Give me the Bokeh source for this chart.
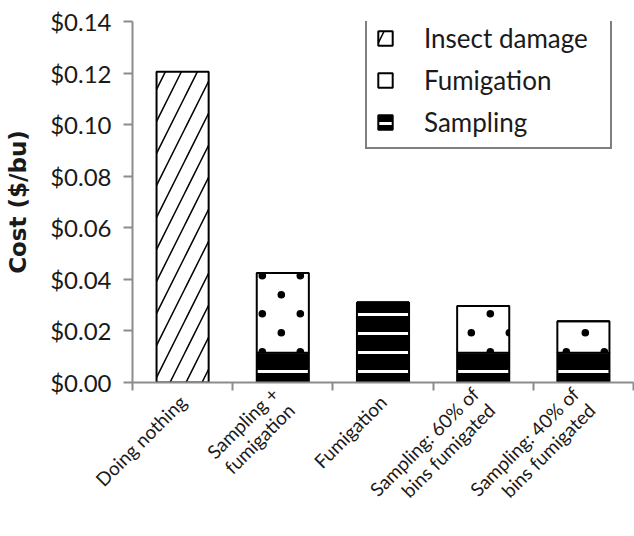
import math
import base64
from bokeh.plotting import figure
from bokeh.core.properties import value
from bokeh.models import (ColumnDataSource, FixedTicker, NumeralTickFormatter,
                          Legend, LegendItem, Range1d, ImageURLTexture)
from bokeh.embed import file_html
from bokeh.resources import INLINE

# ---- data -------------------------------------------------------------
categories = ["Doing nothing", "Sampling +\nfumigation", "Fumigation",
              "Sampling: 60% of\nbins fumigated", "Sampling: 40% of\nbins fumigated"]
sampling = [0.0, 0.0115, 0.0310, 0.0115, 0.0115]
fumigation = [0.0, 0.0310, 0.0, 0.0182, 0.0123]
insect_damage = [0.1205, 0.0, 0.0, 0.0, 0.0]
y_ticks = [0.00, 0.02, 0.04, 0.06, 0.08, 0.10, 0.12, 0.14]
series_names = ["Insect damage", "Fumigation", "Sampling"]

# ---- derived -----------------------------------------------------------
n = len(categories)
xs = [i + 0.5 for i in range(n)]
s_top = list(sampling)
f_top = [a + b for a, b in zip(s_top, fumigation)]
i_top = [a + b for a, b in zip(f_top, insect_damage)]

src = ColumnDataSource(dict(x=xs, s_bot=[0.0] * n, s_top=s_top,
                            f_bot=s_top, f_top=f_top,
                            i_bot=f_top, i_top=i_top))

FONT = "Lato"
AXIS_GREY = "#8c8c8c"
TEXT = "#1a1a1a"

# staggered dot texture for the fumigation fill
dot_svg = ('<svg xmlns="http://www.w3.org/2000/svg" width="38" height="38">'
           '<g fill="black">'
           '<circle cx="34.3" cy="9.7" r="3.8"/>'
           '<circle cx="-3.7" cy="9.7" r="3.8"/>'
           '<circle cx="15.3" cy="28.7" r="3.8"/>'
           '</g></svg>')
dot_url = "data:image/svg+xml;base64," + base64.b64encode(dot_svg.encode()).decode()

p = figure(width=634, height=536, x_range=Range1d(0, n),
           y_range=Range1d(y_ticks[0], y_ticks[-1]),
           output_backend="svg", toolbar_location=None,
           min_border_left=132, min_border_right=1, min_border_top=21,
           min_border_bottom=153)
p.outline_line_color = None
p.xgrid.visible = False
p.ygrid.visible = False
p.background_fill_color = "white"
p.border_fill_color = "white"

W = 0.52
r_s = p.vbar(x="x", bottom="s_bot", top="s_top", width=W, source=src,
             fill_color="black", line_color="black", line_width=2,
             hatch_pattern="horizontal_line", hatch_color="white",
             hatch_scale=19, hatch_weight=3)
r_f = p.vbar(x="x", bottom="f_bot", top="f_top", width=W, source=src,
             fill_color="white", line_color="black", line_width=2,
             hatch_pattern=value("fumdots"),
             hatch_extra={"fumdots": ImageURLTexture(url=dot_url)})
r_i = p.vbar(x="x", bottom="i_bot", top="i_top", width=W, source=src,
             fill_color="white", line_color="black", line_width=2,
             hatch_pattern="right_diagonal_line", hatch_color="black",
             hatch_scale=32, hatch_weight=1.5)

# legend swatch for fumigation: plain white square (draws no bar)
proxy = ColumnDataSource(dict(x=[float("nan")], bottom=[float("nan")], top=[float("nan")]))
r_f_leg = p.vbar(x="x", bottom="bottom", top="top", width=W, source=proxy,
                 fill_color="white", line_color="black", line_width=2)

# x axis: category labels at bar centres, tick marks at category boundaries
xa = p.xaxis[0]
xa.ticker = FixedTicker(ticks=xs, minor_ticks=list(range(n + 1)))
xa.major_label_overrides = {x: c for x, c in zip(xs, categories)}
xa.major_label_orientation = math.pi / 4
xa.major_label_text_font = FONT
xa.major_label_text_font_size = "19px"
xa.major_label_text_line_height = 1.0
xa.major_label_text_color = TEXT
xa.major_label_standoff = 8
xa.major_tick_out = 0
xa.major_tick_in = 0
xa.minor_tick_out = 8
xa.minor_tick_in = 0
xa.axis_line_color = AXIS_GREY
xa.axis_line_width = 2
xa.minor_tick_line_color = AXIS_GREY
xa.minor_tick_line_width = 2

ya = p.yaxis[0]
ya.ticker = FixedTicker(ticks=y_ticks)
ya.formatter = NumeralTickFormatter(format="$0.00")
ya.major_label_text_font = FONT
ya.major_label_text_font_size = "24px"
ya.major_label_text_color = TEXT
ya.major_label_standoff = 12
ya.major_tick_out = 9
ya.major_tick_in = 0
ya.minor_tick_out = 0
ya.minor_tick_in = 0
ya.axis_line_color = AXIS_GREY
ya.axis_line_width = 2
ya.major_tick_line_color = AXIS_GREY
ya.major_tick_line_width = 2
ya.axis_label = "Cost ($/bu)"
ya.axis_label_text_font = "DejaVu Sans"
ya.axis_label_text_font_style = "bold"
ya.axis_label_text_font_size = "23px"
ya.axis_label_text_color = TEXT
ya.axis_label_standoff = 16

legend = Legend(items=[LegendItem(label=series_names[0], renderers=[r_i]),
                       LegendItem(label=series_names[1], renderers=[r_f_leg]),
                       LegendItem(label=series_names[2], renderers=[r_s])],
                location=(233, 233), orientation="vertical")
legend.label_text_font = FONT
legend.label_text_font_size = "26px"
legend.label_text_color = TEXT
legend.glyph_width = 18
legend.glyph_height = 18
legend.label_standoff = 30
legend.label_width = 177
legend.padding = 9
legend.spacing = 10
legend.border_line_color = "black"
legend.border_line_width = 2
legend.background_fill_color = "white"
legend.background_fill_alpha = 1.0
legend.margin = 0
p.add_layout(legend)

open("out.html", "w").write(file_html(p, INLINE))
